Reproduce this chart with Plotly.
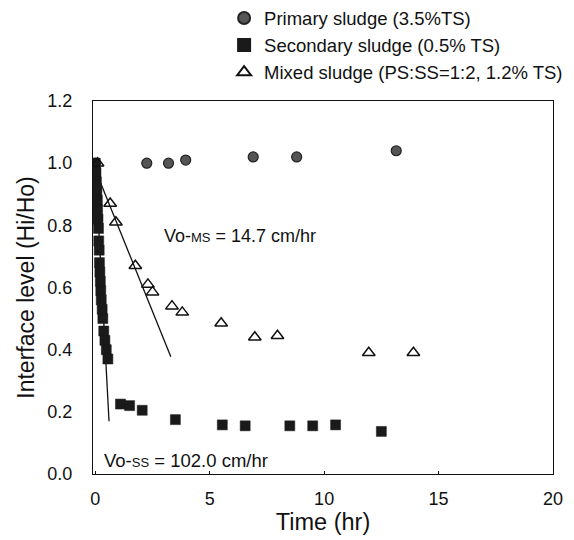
import plotly.graph_objects as go

# Primary sludge (3.5%TS)
ps_t = [0.0, 2.25, 3.2, 3.95, 6.9, 8.8, 13.15]
ps_h = [1.0, 1.0, 1.0, 1.01, 1.02, 1.02, 1.04]

# Secondary sludge (0.5% TS)
ss_t = [0.0, 0.03, 0.05, 0.07, 0.09, 0.1, 0.12, 0.14, 0.15, 0.17, 0.18, 0.2, 0.22, 0.24,
        0.26, 0.3, 0.33, 0.37, 0.42, 0.48, 0.55,
        1.1, 1.5, 2.05, 3.5, 5.55, 6.55, 8.5, 9.5, 10.5, 12.5]
ss_h = [1.0, 0.97, 0.94, 0.91, 0.88, 0.85, 0.82, 0.79, 0.75, 0.72, 0.68, 0.65, 0.62, 0.59,
        0.56, 0.53, 0.5, 0.46, 0.43, 0.4, 0.37,
        0.225, 0.22, 0.205, 0.175, 0.158, 0.155, 0.155, 0.155, 0.158, 0.137]

# Mixed sludge (PS:SS=1:2, 1.2% TS)
ms_t = [0.1, 0.65, 0.9, 1.75, 2.3, 2.5, 3.35, 3.8, 5.5, 6.97, 7.96, 11.95, 13.9]
ms_h = [1.0, 0.87, 0.81, 0.67, 0.61, 0.585, 0.54, 0.52, 0.485, 0.44, 0.445, 0.39, 0.39]

# Fitted initial settling lines
ms_line_t = [0.05, 3.3]
ms_line_h = [0.97, 0.377]
ss_line_t = [0.0, 0.6]
ss_line_h = [1.0, 0.17]

x_ticks = [0, 5, 10, 15, 20]
y_ticks = [0.0, 0.2, 0.4, 0.6, 0.8, 1.0, 1.2]

FONT = "Liberation Sans, Arial, sans-serif"
INK = "#111111"

fig = go.Figure()
fig.add_trace(go.Scatter(x=ms_line_t, y=ms_line_h, mode="lines",
                         line=dict(color=INK, width=1.3), showlegend=False, hoverinfo="skip"))
fig.add_trace(go.Scatter(x=ss_line_t, y=ss_line_h, mode="lines",
                         line=dict(color=INK, width=1.3), showlegend=False, hoverinfo="skip"))
fig.add_trace(go.Scatter(x=ps_t, y=ps_h, mode="markers", name="Primary sludge (3.5%TS)",
                         marker=dict(symbol="circle", size=10, color="#555555",
                                     line=dict(color="#222222", width=1.2))))
fig.add_trace(go.Scatter(x=ss_t, y=ss_h, mode="markers", name="Secondary sludge (0.5% TS)",
                         marker=dict(symbol="square", size=10, color="#1a1a1a",
                                     line=dict(color="#1a1a1a", width=0.5))))
fig.add_trace(go.Scatter(x=ms_t, y=ms_h, mode="markers", name="Mixed sludge (PS:SS=1:2, 1.2% TS)",
                         marker=dict(symbol="triangle-up-open", size=11, color=INK,
                                     line=dict(color=INK, width=1.5))))

fig.add_annotation(x=2.9, y=0.765, xref="x", yref="y", xanchor="left", yanchor="middle",
                   text="Vo-<span style='font-size:13px'>MS</span> = 14.7 cm/hr", showarrow=False,
                   font=dict(family=FONT, size=18, color=INK))
fig.add_annotation(x=0.3, y=0.045, xref="x", yref="y", xanchor="left", yanchor="middle",
                   text="Vo-<span style='font-size:13px'>SS</span> = 102.0 cm/hr", showarrow=False,
                   font=dict(family=FONT, size=18.5, color=INK))

fig.update_layout(
    width=574, height=540,
    margin=dict(l=93, r=21, t=101, b=66, autoexpand=False),
    paper_bgcolor="white", plot_bgcolor="white",
    font=dict(family=FONT, size=18, color=INK),
    legend=dict(x=0.285, y=1.272, xanchor="left", yanchor="top",
                font=dict(family=FONT, size=18.5, color=INK),
                bgcolor="rgba(0,0,0,0)", tracegroupgap=0, itemsizing="constant"),
    xaxis=dict(range=[-0.1, 20], tickvals=x_ticks, ticktext=[str(v) for v in x_ticks],
               showgrid=False, zeroline=False, showline=True, linecolor=INK, linewidth=1.2,
               mirror=True, ticks="inside", ticklen=3, tickcolor=INK,
               ticklabelstandoff=8,
               tickfont=dict(size=18, color=INK),
               title=dict(text="Time (hr)", font=dict(size=23.5, color=INK), standoff=2)),
    yaxis=dict(range=[0, 1.2], tickvals=y_ticks, ticktext=[f"{v:.1f}" for v in y_ticks],
               showgrid=False, zeroline=False, showline=True, linecolor=INK, linewidth=1.2,
               mirror=True, ticks="", ticklabelstandoff=16,
               tickfont=dict(size=18, color=INK),
               title=dict(text="Interface level (Hi/Ho)", font=dict(size=23, color=INK), standoff=6)),
)

fig.write_html("out.html", config={"displayModeBar": False},
               post_script="document.body.style.margin='0';document.body.style.overflow='hidden';")
